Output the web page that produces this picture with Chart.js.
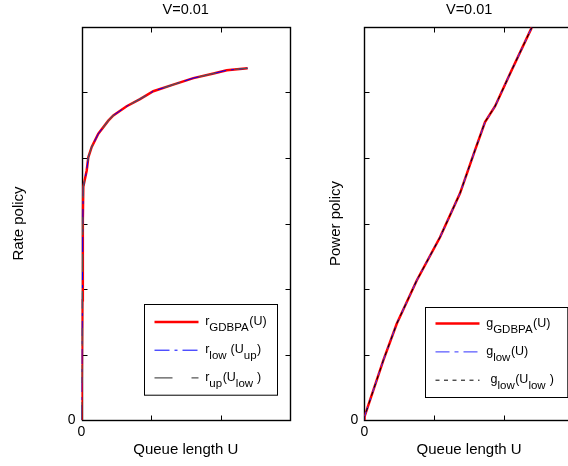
<!DOCTYPE html>
<html>
<head>
<meta charset="utf-8">
<script src="https://cdn.jsdelivr.net/npm/chart.js@4.4.0/dist/chart.umd.min.js"></script>
<style>
  html, body { margin: 0; padding: 0; background: #fff; overflow: hidden; }
  #marco_fig { position: relative; width: 568px; height: 466px; overflow: hidden; }
  #graf_tasa { position: absolute; left: 0; top: 0; }
  #graf_potencia { position: absolute; left: 300px; top: 0; }
</style>
</head>
<body>
<div id="marco_fig">
  <canvas id="graf_tasa" width="300" height="466"></canvas>
  <canvas id="graf_potencia" width="290" height="466"></canvas>
</div>
<script>
// queue length samples (x) for each panel
const cola_tasa = [0, 0.012, 0.019, 0.026, 0.075, 0.098, 0.147, 0.242, 0.386, 0.458, 0.650, 0.842, 1.033, 1.32, 1.61, 1.90, 2.09, 2.39];
const cola_potencia = [0, 0.003, 0.034, 0.272, 0.464, 0.750, 1.083, 1.369, 1.584, 1.727, 1.871, 2.086, 2.395];

// rate policies (the three curves lie on top of each other)
const r_gdbpa = [0, 1.83, 3.05, 3.56, 3.81, 4.01, 4.17, 4.37, 4.57, 4.65, 4.79, 4.90, 5.02, 5.12, 5.22, 5.29, 5.34, 5.37];
const r_low = [0, 1.83, 3.05, 3.56, 3.81, 4.01, 4.17, 4.37, 4.57, 4.65, 4.79, 4.90, 5.02, 5.12, 5.22, 5.29, 5.34, 5.37];
const r_up = [0, 1.83, 3.05, 3.56, 3.81, 4.01, 4.17, 4.37, 4.57, 4.65, 4.79, 4.90, 5.02, 5.12, 5.22, 5.29, 5.34, 5.37];

// power policies
const g_gdbpa = [0, 0.05, 0.15, 0.91, 1.47, 2.13, 2.79, 3.46, 4.12, 4.55, 4.79, 5.29, 5.99];
const g_low = [0, 0.05, 0.15, 0.91, 1.47, 2.13, 2.79, 3.46, 4.12, 4.55, 4.79, 5.29, 5.99];
const g_low_ulow = [0, 0.05, 0.15, 0.91, 1.47, 2.13, 2.79, 3.46, 4.12, 4.55, 4.79, 5.29, 5.99];

// axis ticks (only the origin is labelled)
const ticks_x = [0, 1, 2, 3];
const ticks_y = [0, 1, 2, 3, 4, 5, 6];

// legend texts: even items normal, odd items subscript
const leyenda_tasa = [['r', 'GDBPA', '(U)'], ['r', 'low', ' (U', 'up', ')'], ['r', 'up', '(U', 'low', ' )']];
const leyenda_potencia = [['g', 'GDBPA', '(U)'], ['g', 'low', '(U)'], ['g', 'low', '(U', 'low', ' )']];

Chart.defaults.font.family = "'Liberation Sans', Arial, sans-serif";
Chart.defaults.color = '#000';

const puntos = (xs, ys) => xs.map((q, i) => ({x: q, y: ys[i]}));

// box around the axes with ticks pointing inwards
const caja = {
  id: 'caja',
  beforeDatasetsDraw(chart) {
    const {ctx, chartArea: a, scales: {x, y}} = chart;
    const l = Math.round(a.left) + 0.5, r = Math.round(a.right) + 0.5;
    const t = Math.round(a.top) + 0.5, b = Math.round(a.bottom) + 0.5;
    ctx.save();
    ctx.strokeStyle = '#000';
    ctx.lineWidth = 1;
    ctx.beginPath();
    x.ticks.forEach(tk => {
      const px = Math.round(x.getPixelForValue(tk.value)) + 0.5;
      ctx.moveTo(px, b); ctx.lineTo(px, b - 5);
      ctx.moveTo(px, t); ctx.lineTo(px, t + 5);
    });
    y.ticks.forEach(tk => {
      const py = Math.round(y.getPixelForValue(tk.value)) + 0.5;
      ctx.moveTo(l, py); ctx.lineTo(l + 5, py);
      ctx.moveTo(r, py); ctx.lineTo(r - 5, py);
    });
    ctx.stroke();
    ctx.lineWidth = 1.4;
    ctx.strokeRect(l, t, r - l, b - t);
    ctx.restore();
  }
};

// legend box with subscripted labels
const leyenda = {
  id: 'leyenda',
  afterDatasetsDraw(chart, args, op) {
    const {ctx, chartArea: a} = chart;
    const bx = Math.round(a.right - op.derecha - op.ancho) + 0.5;
    const by = Math.round(a.bottom - op.abajo - op.alto) + 0.5;
    ctx.save();
    ctx.fillStyle = '#fff';
    ctx.fillRect(bx, by, op.ancho, op.alto);
    ctx.strokeStyle = '#000';
    ctx.lineWidth = 1;
    ctx.strokeRect(bx, by, op.ancho, op.alto);
    chart.data.datasets.forEach((ds, i) => {
      const ly = by + op.filas[i];
      ctx.strokeStyle = ds.borderColor;
      ctx.lineWidth = ds.borderWidth;
      ctx.setLineDash(ds.borderDash || []);
      ctx.beginPath();
      ctx.moveTo(bx + 10, ly);
      ctx.lineTo(bx + 54, ly);
      ctx.stroke();
      ctx.setLineDash([]);
      let tx = bx + op.texto_x[i];
      ctx.fillStyle = '#000';
      ctx.textBaseline = 'alphabetic';
      op.textos[i].forEach((parte, k) => {
        const sub = k % 2 === 1;
        ctx.font = (sub ? '11.5px' : '12.5px') + " 'Liberation Sans', Arial, sans-serif";
        ctx.fillText(parte, tx, ly + (sub ? 9 : 3));
        tx += ctx.measureText(parte).width + (sub ? 0.5 : 0);
      });
    });
    ctx.restore();
  }
};

function escalas(ancho_y, pad_titulo_y, titulo_y) {
  return {
    x: {
      type: 'linear', min: 0, max: 3,
      afterBuildTicks: s => { s.ticks = ticks_x.map(v => ({value: v})); },
      afterFit: s => { s.height = 46; },
      grid: {display: false, drawTicks: false},
      border: {display: false},
      ticks: {padding: 4, maxRotation: 0, font: {size: 14}, callback: v => v === 0 ? '0' : ''},
      title: {display: true, text: 'Queue length U', font: {size: 15}, padding: {top: 0, bottom: 7.5}}
    },
    y: {
      type: 'linear', min: 0, max: 6,
      afterBuildTicks: s => { s.ticks = ticks_y.map(v => ({value: v})); },
      afterFit: s => { s.width = ancho_y; },
      grid: {display: false, drawTicks: false},
      border: {display: false},
      ticks: {padding: 6, font: {size: 14}, callback: v => v === 0 ? '0' : ''},
      title: {display: true, text: titulo_y, font: {size: 15}, padding: {top: pad_titulo_y, bottom: 0}}
    }
  };
}

const titulo = {display: true, text: 'V=0.01', fullSize: false, font: {size: 14.5, weight: 'normal'}, padding: {top: 1.5, bottom: 8.1}};

const graf_tasa = new Chart(document.getElementById('graf_tasa').getContext('2d'), {
  type: 'line',
  data: {
    datasets: [
      {label: 'r_GDBPA(U)', data: puntos(cola_tasa, r_gdbpa), borderColor: '#ff0000', borderWidth: 2.5, order: 3},
      {label: 'r_low(U_up)', data: puntos(cola_tasa, r_low), borderColor: '#0000ff', borderWidth: 1, borderDash: [15, 5, 3, 5], order: 2},
      {label: 'r_up(U_low)', data: puntos(cola_tasa, r_up), borderColor: '#555555', borderWidth: 1.2, borderDash: [18, 19], order: 1}
    ]
  },
  options: {
    responsive: false,
    animation: false,
    parsing: false,
    elements: {point: {radius: 0}, line: {tension: 0}},
    layout: {padding: {left: 0, right: 10, top: 0, bottom: 0}},
    scales: escalas(81.5, 10, 'Rate policy'),
    plugins: {
      legend: {display: false},
      tooltip: {enabled: false},
      title: titulo,
      leyenda: {derecha: 12.7, abajo: 25, ancho: 133, alto: 90.7, filas: [17.4, 45.7, 73.4], texto_x: [60.7, 60.7, 60.7], textos: leyenda_tasa}
    }
  },
  plugins: [caja, leyenda]
});

const graf_potencia = new Chart(document.getElementById('graf_potencia').getContext('2d'), {
  type: 'line',
  data: {
    datasets: [
      {label: 'g_GDBPA(U)', data: puntos(cola_potencia, g_gdbpa), borderColor: '#ff0000', borderWidth: 2.5, order: 3},
      {label: 'g_low(U)', data: puntos(cola_potencia, g_low), borderColor: '#3030ff', borderWidth: 1, borderDash: [14, 5, 4, 5], order: 2},
      {label: 'g_low(U_low)', data: puntos(cola_potencia, g_low_ulow), borderColor: '#000000', borderWidth: 1, borderDash: [4, 4.5], order: 1}
    ]
  },
  options: {
    responsive: false,
    animation: false,
    parsing: false,
    elements: {point: {radius: 0}, line: {tension: 0}},
    layout: {padding: {left: 0, right: 16, top: 0, bottom: 0}},
    scales: escalas(64.3, 27, 'Power policy'),
    plugins: {
      legend: {display: false},
      tooltip: {enabled: false},
      title: titulo,
      leyenda: {derecha: 6.7, abajo: 22.7, ancho: 142.3, alto: 90, filas: [16, 44.4, 72.7], texto_x: [60.7, 60.7, 65], textos: leyenda_potencia}
    }
  },
  plugins: [caja, leyenda]
});
</script>
</body>
</html>
